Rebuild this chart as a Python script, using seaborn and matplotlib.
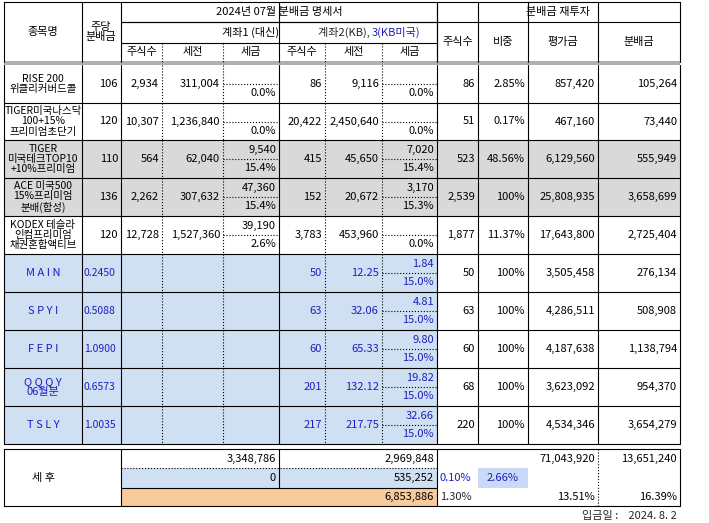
import matplotlib
matplotlib.use("Agg")
import matplotlib.pyplot as plt
import seaborn as sns
from matplotlib.patches import Rectangle

sns.set_theme(style="white")
plt.rcParams['font.family'] = ['Noto Sans CJK KR', 'DejaVu Sans']

# ---------------- data ----------------
names = ["RISE 200\n위클리커버드콜", "TIGER미국나스닥\n100+15%\n프리미엄초단기",
         "TIGER\n미국테크TOP10\n+10%프리미엄", "ACE 미국500\n15%프리미엄\n분배(합성)",
         "KODEX 테슬라\n인컴프리미엄\n채권혼합액티브"]
dps = ["106", "120", "110", "136", "120"]
a1_sh = ["2,934", "10,307", "564", "2,262", "12,728"]
a1_pre = ["311,004", "1,236,840", "62,040", "307,632", "1,527,360"]
a1_tax = ["", "", "9,540", "47,360", "39,190"]
a1_pct = ["0.0%", "0.0%", "15.4%", "15.4%", "2.6%"]
a2_sh = ["86", "20,422", "415", "152", "3,783"]
a2_pre = ["9,116", "2,450,640", "45,650", "20,672", "453,960"]
a2_tax = ["", "", "7,020", "3,170", ""]
a2_pct = ["0.0%", "0.0%", "15.4%", "15.3%", "0.0%"]
r_sh = ["86", "51", "523", "2,539", "1,877"]
r_w = ["2.85%", "0.17%", "48.56%", "100%", "11.37%"]
r_val = ["857,420", "467,160", "6,129,560", "25,808,935", "17,643,800"]
r_div = ["105,264", "73,440", "555,949", "3,658,699", "2,725,404"]
gray_rows = [False, False, True, True, False]

us_names = ["M A I N", "S P Y I", "F E P I", "Q Q Q Y\n06월분", "T S L Y"]
us_dps = ["0.2450", "0.5088", "1.0900", "0.6573", "1.0035"]
us_sh = ["50", "63", "60", "201", "217"]
us_pre = ["12.25", "32.06", "65.33", "132.12", "217.75"]
us_tax = ["1.84", "4.81", "9.80", "19.82", "32.66"]
us_pct = ["15.0%", "15.0%", "15.0%", "15.0%", "15.0%"]
us_rsh = ["50", "63", "60", "68", "220"]
us_w = ["100%", "100%", "100%", "100%", "100%"]
us_val = ["3,505,458", "4,286,511", "4,187,638", "3,623,092", "4,534,346"]
us_div = ["276,134", "508,908", "1,138,794", "954,370", "3,654,279"]

sum_a1 = ["3,348,786", "0"]
sum_a2 = ["2,969,848", "535,252"]
sum_total = "6,853,886"
sum_val, sum_div = "71,043,920", "13,651,240"
sum_p1, sum_p2, sum_p3 = "0.10%", "2.66%", "1.30%"
sum_p4, sum_p5 = "13.51%", "16.39%"
pay_date = "입금일 :    2024. 8. 2"

# ---------------- layout ----------------
X = [4, 82, 121, 162, 223, 279, 325, 382, 437, 478, 528, 598, 680]
BLUE = "#1f1fbf"
LB = "#cfe0f3"
GR = "#d9d9d9"
OR = "#f9cb9c"
FS = 8

fig = plt.figure(figsize=(7.09, 5.23), dpi=100)
ax = fig.add_axes([0, 0, 1, 1])
ax.set_xlim(0, 709); ax.set_ylim(523, 0); ax.axis("off")

def hline(y, x0, x1, ls="-", lw=0.8, c="black"):
    ax.plot([x0, x1], [y, y], color=c, lw=lw, ls=ls)
def vline(x, y0, y1, ls="-", lw=0.8, c="black"):
    ax.plot([x, x], [y0, y1], color=c, lw=lw, ls=ls)
def txt(x, y, s, ha="center", c="black", fs=FS):
    ax.text(x, y, s, ha=ha, va="center", color=c, fontsize=fs, linespacing=1.05)
def rect(x0, y0, x1, y1, c):
    ax.add_patch(Rectangle((x0, y0), x1 - x0, y1 - y0, color=c, lw=0, zorder=0))

# header
txt(43, 32, "종목명"); txt(101, 32, "주당\n분배금")
txt(279, 12, "2024년 07월 분배금 명세서")
txt(251, 32, "계좌1 (대신)")
ax.text(372, 32, "계좌2(KB), ", ha="right", va="center", fontsize=FS)
ax.text(372, 32, "3(KB미국)", ha="left", va="center", fontsize=FS, color=BLUE)
for i, h in enumerate(["주식수", "세전", "세금", "주식수", "세전", "세금"]):
    txt((X[2 + i] + X[3 + i]) / 2, 52, h)
txt(558, 12, "분배금 재투자")
for i, h in enumerate(["주식수", "비중", "평가금", "분배금"]):
    txt((X[8 + i] + X[9 + i]) / 2, 42, h)
hline(2, X[0], X[-1]); hline(22, X[2], X[-1]); hline(22, X[2], X[8]); hline(43, X[2], X[8])
for x in [X[0], X[1], X[2], X[5], X[8], X[9], X[10], X[11], X[12]]:
    vline(x, 2, 62)
vline(X[8], 2, 62)
for x in [X[3], X[4], X[6], X[7]]:
    vline(x, 43, 62, ls=":")
rect(X[0], 61, X[-1], 65, "#b0b0b0")

rows_y = [65, 103, 140, 178, 216, 254, 292, 330, 368, 406, 444]

def right(col, y, s, c="black"):
    ax.text(X[col + 1] - 3, y, s, ha="right", va="center", fontsize=FS, color=c)

# korean rows
for i in range(5):
    y0, y1 = rows_y[i], rows_y[i + 1]; ym = (y0 + y1) / 2
    if gray_rows[i]:
        rect(X[0], y0, X[-1], y1, GR)
    txt(43, ym, names[i], fs=7.5)
    right(1, ym, dps[i]); right(2, ym, a1_sh[i]); right(3, ym, a1_pre[i])
    right(4, ym - 9, a1_tax[i]); right(4, ym + 9, a1_pct[i])
    right(5, ym, a2_sh[i]); right(6, ym, a2_pre[i])
    right(7, ym - 9, a2_tax[i]); right(7, ym + 9, a2_pct[i])
    right(8, ym, r_sh[i]); right(9, ym, r_w[i]); right(10, ym, r_val[i]); right(11, ym, r_div[i])
    hline(ym, X[4], X[5], ls=":"); hline(ym, X[7], X[8], ls=":")
    hline(y1, X[0], X[-1])
    for x in X[:-1] + [X[-1]]:
        ls = ":" if x in (X[3], X[4], X[6], X[7]) else "-"
        vline(x, y0, y1, ls=ls)

# US rows
for i in range(5):
    y0, y1 = rows_y[5 + i], rows_y[6 + i]; ym = (y0 + y1) / 2
    rect(X[0], y0, X[8], y1, LB)
    txt(43, ym, us_names[i], c=BLUE)
    ax.text(X[1] + 2, ym, us_dps[i], ha="left", va="center", fontsize=7.5, color=BLUE)
    right(5, ym, us_sh[i], BLUE); right(6, ym, us_pre[i], BLUE)
    right(7, ym - 9, us_tax[i], BLUE); right(7, ym + 9, us_pct[i], BLUE)
    right(8, ym, us_rsh[i]); right(9, ym, us_w[i]); right(10, ym, us_val[i]); right(11, ym, us_div[i])
    hline(ym, X[7], X[8], ls=":")
    hline(y1, X[0], X[-1])
    for x in X:
        ls = ":" if x in (X[3], X[4], X[6], X[7]) else "-"
        vline(x, y0, y1, ls=ls)

# summary
S = [449, 468, 488, 506]
rect(X[2], S[1], X[8], S[2], LB); rect(X[2], S[2], X[8], S[3], OR)
rect(X[9], S[1], X[10], S[2], "#c9daf8")
hline(S[0], X[0], X[-1]); hline(S[3], X[0], X[-1])
hline(S[1], X[2], X[8], ls=":"); hline(S[2], X[2], X[8])
vline(X[0], S[0], S[3]); vline(X[2], S[0], S[3]); vline(X[5], S[0], S[2])
vline(X[8], S[0], S[3]); vline(X[-1], S[0], S[3]); vline(X[11], S[0], S[3], ls=":")
txt(43, (S[0] + S[3]) / 2, "세 후")
for k in range(2):
    yc = (S[k] + S[k + 1]) / 2
    right(4, yc, sum_a1[k]); right(7, yc, sum_a2[k])
y3 = (S[2] + S[3]) / 2
right(7, y3, sum_total)
right(10, (S[0] + S[1]) / 2, sum_val); right(11, (S[0] + S[1]) / 2, sum_div)
ax.text(X[8] + 3, (S[1] + S[2]) / 2, sum_p1, ha="left", va="center", fontsize=FS, color=BLUE)
txt((X[9] + X[10]) / 2, (S[1] + S[2]) / 2, sum_p2, c=BLUE)
ax.text(X[8] + 3, y3, sum_p3, ha="left", va="center", fontsize=FS)
right(10, y3, sum_p4); right(11, y3, sum_p5)
ax.text(X[-1] - 3, 516, pay_date, ha="right", va="center", fontsize=FS)

fig.savefig("out.png", dpi=100, facecolor="white")
